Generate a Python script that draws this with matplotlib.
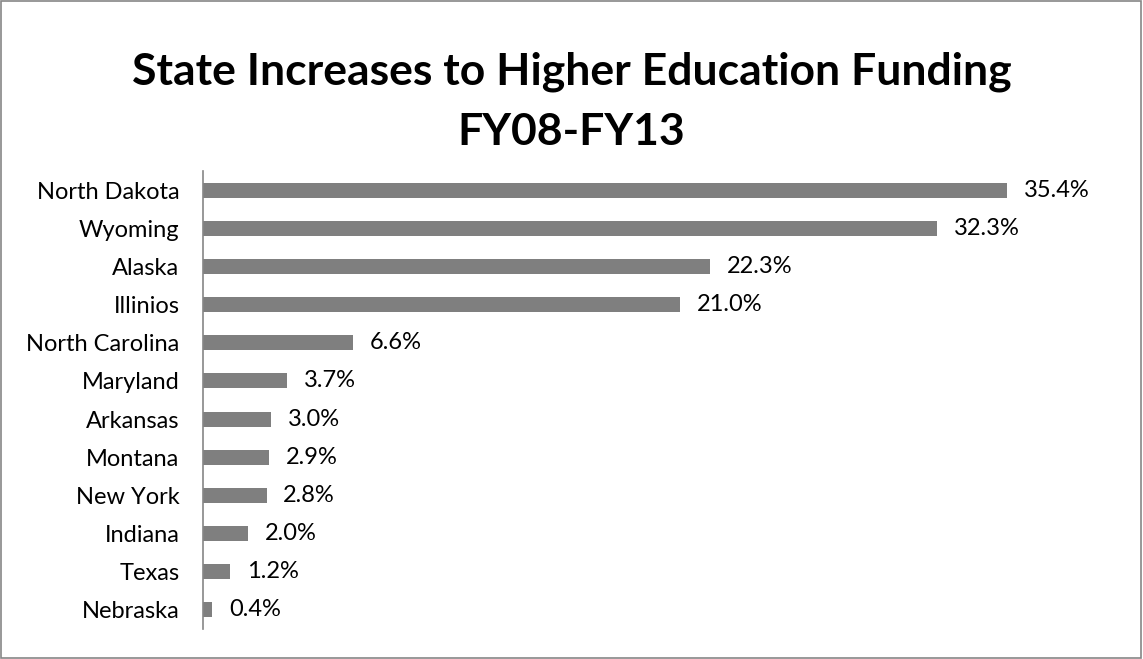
import matplotlib.pyplot as plt
from matplotlib.patches import Rectangle

plt.rcParams['font.family'] = ['Lato', 'DejaVu Sans']

# データ
states = ["North Dakota", "Wyoming", "Alaska", "Illinios", "North Carolina",
          "Maryland", "Arkansas", "Montana", "New York", "Indiana", "Texas", "Nebraska"]
increase = [35.4, 32.3, 22.3, 21.0, 6.6, 3.7, 3.0, 2.9, 2.8, 2.0, 1.2, 0.4]
value_labels = ["35.4%", "32.3%", "22.3%", "21.0%", "6.6%", "3.7%",
                "3.0%", "2.9%", "2.8%", "2.0%", "1.2%", "0.4%"]

fig = plt.figure(figsize=(11.43, 6.59), dpi=100)
ax = fig.add_axes([203 / 1143, 1 - 629 / 659, 909 / 1143, 458 / 659])

pos = list(range(len(states)))
ax.barh(pos, increase, height=0.39, color="#7f7f7f")
ax.set_ylim(len(states) - 0.5, -0.5)
ax.set_xlim(0, 40)
ax.set_yticks(pos)
ax.set_yticklabels(states, fontsize=17, color="#000000")
ax.tick_params(axis="y", length=0, pad=17)
ax.set_xticks([])

for y, v, lab in zip(pos, increase, value_labels):
    ax.annotate(lab, xy=(v, y), xytext=(12, 0), textcoords="offset points",
                va="center", ha="left", fontsize=17)

for s in ["top", "right", "bottom"]:
    ax.spines[s].set_visible(False)
ax.spines["left"].set_color("#868686")
ax.spines["left"].set_linewidth(1.2)

fig.text(0.5, 1 - 72 / 659, "State Increases to Higher Education Funding",
         ha="center", va="center", fontsize=32, fontweight="bold")
fig.text(0.5, 1 - 132 / 659, "FY08-FY13",
         ha="center", va="center", fontsize=32, fontweight="bold")

# 外枠
fig.patches.append(Rectangle((0.0005, 0.0008), 0.998, 0.998, transform=fig.transFigure,
                             fill=False, edgecolor="#868686", linewidth=1.2))

plt.savefig("out.png", dpi=100)
